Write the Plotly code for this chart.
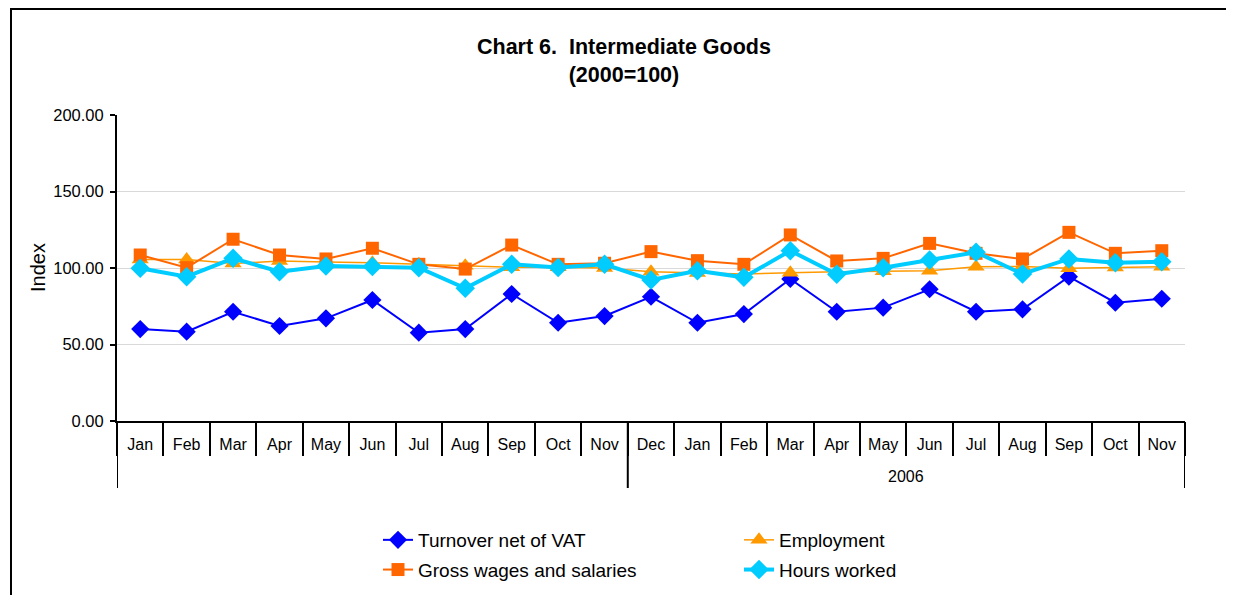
import plotly.graph_objects as go

years = [""] * 11 + ["2006"] * 12
months = ["Jan", "Feb", "Mar", "Apr", "May", "Jun", "Jul", "Aug", "Sep", "Oct", "Nov",
          "Dec", "Jan", "Feb", "Mar", "Apr", "May", "Jun", "Jul", "Aug", "Sep", "Oct", "Nov"]

turnover = [60.1, 58.4, 71.4, 62.1, 67.1, 79.1, 57.7, 60.1, 83.0, 64.2, 68.6,
            81.2, 64.2, 69.9, 92.8, 71.4, 74.1, 86.1, 71.4, 73.0, 94.3, 77.3, 79.9]
employment = [105.5, 105.5, 103.0, 104.5, 104.0, 103.5, 102.5, 101.5, 100.5, 100.5, 100.0,
              97.6, 96.8, 96.0, 96.9, 97.6, 97.8, 98.2, 100.8, 101.0, 99.8, 100.4, 100.8]
wages = [108.5, 100.2, 118.8, 108.5, 105.9, 112.9, 102.4, 99.3, 115.0, 102.4, 103.1,
         110.7, 104.8, 102.4, 121.6, 104.6, 106.3, 116.1, 109.6, 105.9, 123.3, 109.6, 111.3]
hours = [99.8, 94.3, 106.3, 97.6, 101.3, 100.9, 100.2, 86.7, 102.4, 100.4, 102.4,
         92.2, 98.2, 93.9, 111.3, 95.9, 100.2, 105.2, 110.3, 96.1, 105.9, 103.5, 104.1]

n = len(months)
xi = list(range(n))

# group boundaries derived from the year labels
bounds = [-0.5]
for i in range(1, n):
    if years[i] != years[i - 1]:
        bounds.append(i - 0.5)
bounds.append(n - 0.5)

fig = go.Figure()
fig.add_trace(go.Scatter(x=xi, y=turnover, name="Turnover net of VAT", mode="lines+markers",
                         line=dict(color="#0000FF", width=2), legendgroup="a",
                         marker=dict(symbol="diamond", size=14, color="#0000FF"), legend="legend"))
fig.add_trace(go.Scatter(x=xi, y=employment, name="Employment", mode="lines+markers",
                         line=dict(color="#FF9900", width=1.5), legendgroup="b",
                         marker=dict(symbol="triangle-up", size=15, color="#FF9900"), legend="legend2"))
fig.add_trace(go.Scatter(x=xi, y=wages, name="Gross wages and salaries", mode="lines+markers",
                         line=dict(color="#FF6600", width=2), legendgroup="c",
                         marker=dict(symbol="square", size=13, color="#FF6600"), legend="legend"))
fig.add_trace(go.Scatter(x=xi, y=hours, name="Hours worked", mode="lines+markers",
                         line=dict(color="#00CCFF", width=4), legendgroup="d",
                         marker=dict(symbol="diamond", size=15, color="#00CCFF"), legend="legend2"))
# invisible trace to carry the boundary-tick axis
fig.add_trace(go.Scatter(x=[bounds[0], bounds[-1]], y=[None, None], xaxis="x2",
                         showlegend=False, hoverinfo="skip", mode="lines"))

font = "Arial, Liberation Sans, sans-serif"

# page pixel -> paper coordinates (plot area spans x 117..1185, y 115..421 on the page)
def px(p):
    return (p - 117) / 1068

def py(p):
    return (421 - p) / 306

shapes = [
    dict(type="path", xref="paper", yref="paper",
         path="M %f %f L %f %f L %f %f" % (px(11), py(620), px(11), py(9), px(1260), py(9)),
         line=dict(color="black", width=2)),
]
for b in bounds:
    shapes.append(dict(type="line", xref="x", yref="paper", x0=b, x1=b, y0=0, y1=py(488),
                       line=dict(color="black", width=2)))

annotations = [
    dict(text="<b>Chart 6.  Intermediate Goods</b><br><b>(2000=100)</b>", xref="paper", yref="paper",
         x=px(624), y=py(61.5), xanchor="center", yanchor="middle",
         showarrow=False, font=dict(size=21.5, family=font)),
    dict(text="Index", xref="paper", yref="paper", x=px(38), y=py(268),
         xanchor="center", yanchor="middle", textangle=-90, showarrow=False,
         font=dict(size=20, family=font)),
]
for i in range(1, len(bounds)):
    lab = years[int(bounds[i - 1] + 0.5)]
    if lab:
        annotations.append(dict(text=lab, xref="x", yref="paper", x=(bounds[i - 1] + bounds[i]) / 2,
                                y=py(476), xanchor="center", yanchor="middle",
                                showarrow=False, font=dict(size=16, family=font)))

fig.update_layout(
    width=1226, height=587,
    margin=dict(l=109, r=49, t=107, b=174, autoexpand=False),
    paper_bgcolor="white", plot_bgcolor="white",
    font=dict(family=font, color="black", size=16),
    showlegend=True,
    legend=dict(x=px(378), y=py(521), xanchor="left", yanchor="top",
                orientation="v", font=dict(size=19), tracegroupgap=2, bgcolor="rgba(0,0,0,0)"),
    legend2=dict(x=px(739), y=py(521), xanchor="left", yanchor="top",
                 orientation="v", font=dict(size=19), tracegroupgap=2, bgcolor="rgba(0,0,0,0)"),
    xaxis=dict(range=[bounds[0], bounds[-1]], tickvals=xi, ticktext=months, automargin=False,
               showline=True, linecolor="black", linewidth=2, ticks="", showgrid=False,
               zeroline=False, tickfont=dict(size=16), ticklabelstandoff=8),
    xaxis2=dict(range=[bounds[0], bounds[-1]], overlaying="x", anchor="y", side="bottom",
                tickvals=[i - 0.5 for i in range(n + 1)], ticks="outside", ticklen=34, tickwidth=2,
                tickcolor="black", showticklabels=False, showgrid=False, zeroline=False,
                showline=False, automargin=False),
    yaxis=dict(range=[0, 200], tickvals=[0, 50, 100, 150, 200], tickformat=".2f",
               showline=True, linecolor="black", linewidth=2, ticks="outside", ticklen=5,
               tickwidth=2, tickcolor="black", showgrid=True, gridcolor="#D9D9D9", gridwidth=1,
               zeroline=False, tickfont=dict(size=16.5), automargin=False, ticklabelstandoff=3),
    annotations=annotations,
    shapes=shapes,
)

fig.write_html("out.html")
